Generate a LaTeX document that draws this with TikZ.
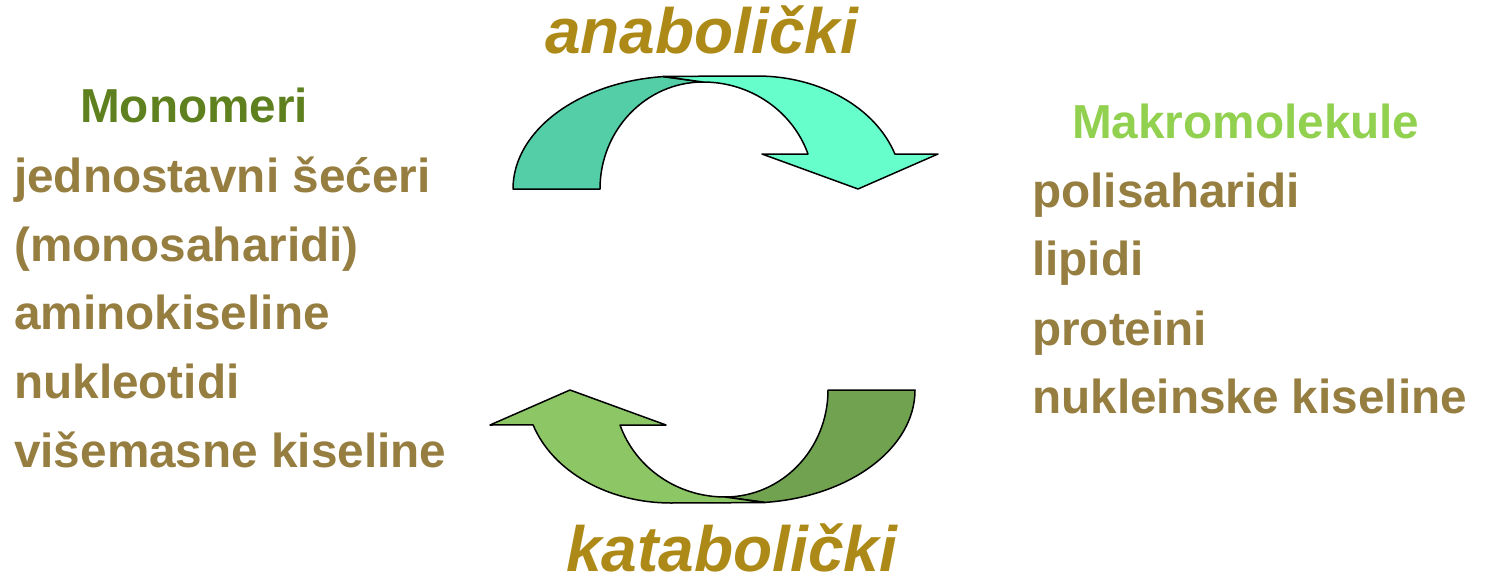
\documentclass[tikz,border=0pt]{standalone}
\usepackage{fontspec}
\setmainfont{Liberation Sans}
\definecolor{txtbrown}{RGB}{150,125,64}
\definecolor{monogreen}{RGB}{95,128,30}
\definecolor{makrogreen}{RGB}{146,208,80}
\definecolor{titlegold}{RGB}{173,138,23}
\definecolor{tealdark}{RGB}{83,206,166}
\definecolor{teallight}{RGB}{102,255,204}
\definecolor{greendark}{RGB}{112,162,80}
\definecolor{greenlight}{RGB}{141,198,101}
\newcommand\curvedarrowshape[2]{%
  \draw[arrowline, fill=#1] (513,-189)
     arc[start angle=180, end angle=96, x radius=167, y radius=113]
     -- (703,-82)
     arc[start angle=90, end angle=180, x radius=103, y radius=107]
     -- cycle;
  \draw[arrowline, fill=#2] (663,-76.4) -- (757,-76)
     arc[start angle=90, end angle=18, x radius=145, y radius=113]
     -- (938,-154) -- (858,-189) -- (762,-154) -- (808,-154)
     arc[start angle=19.1, end angle=90, x radius=111, y radius=107]
     -- cycle;
}
\begin{document}
\begin{tikzpicture}[x=1pt,y=1pt,
  arrowline/.style={draw=black, line width=1.5pt, line join=round},
  listtext/.style={anchor=base west, inner sep=0pt, text=txtbrown,
    font=\fontsize{47.7}{50}\selectfont\bfseries},
  headtext/.style={anchor=base west, inner sep=0pt,
    font=\fontsize{47.7}{50}\selectfont\bfseries},
  titletext/.style={anchor=base west, inner sep=0pt, text=titlegold,
    text depth=0pt, font=\fontsize{64}{66}\selectfont\bfseries\itshape}]
\useasboundingbox (0,0) rectangle (1485,-578);
% arrows
\curvedarrowshape{tealdark}{teallight}
\begin{scope}[rotate around={180:(714,-289.5)}]
\curvedarrowshape{greendark}{greenlight}
\end{scope}
% titles
\node[titletext] (ana) at (545,-53) {anabolički};
\node[titletext] (kata) at (566,-571) {katabolički};
% left column
\node[headtext, text=monogreen] (mono) at (80,-122) {Monomeri};
\node[listtext] (l1) at (14,-192) {jednostavni šećeri};
\node[listtext] (l2) at (14,-261) {(monosaharidi)};
\node[listtext] (l3) at (14,-329) {aminokiseline};
\node[listtext] (l4) at (14,-398) {nukleotidi};
\node[listtext] (l5) at (14,-467) {višemasne kiseline};
% right column
\node[headtext, text=makrogreen] (makro) at (1072,-138) {Makromolekule};
\node[listtext] (r1) at (1032,-207) {polisaharidi};
\node[listtext] (r2) at (1032,-275) {lipidi};
\node[listtext] (r3) at (1032,-345) {proteini};
\node[listtext] (r4) at (1032,-413) {nukleinske kiseline};
\end{tikzpicture}
\end{document}
